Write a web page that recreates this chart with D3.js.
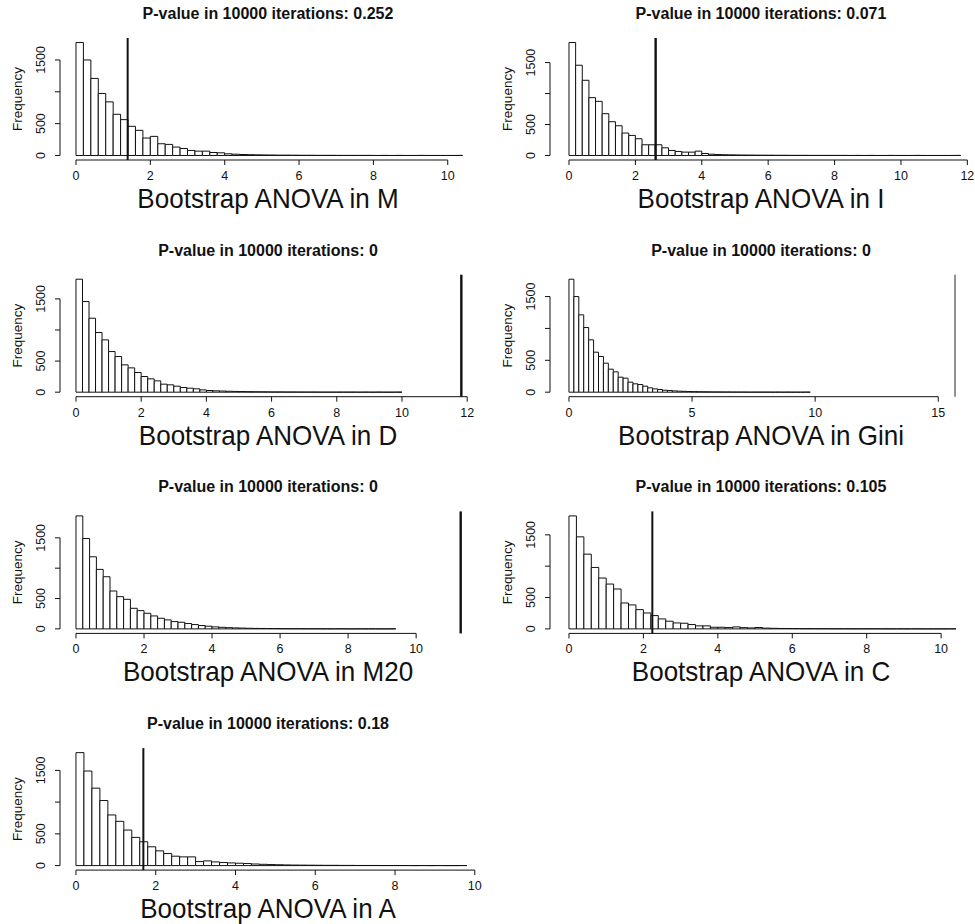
<!DOCTYPE html>
<html><head><meta charset="utf-8">
<script src="https://cdn.jsdelivr.net/npm/d3@7"></script>
<style>body{margin:0;background:#fff} svg{display:block}</style>
</head><body>
<svg id="c" width="975" height="924"></svg>
<script>
// ---------------- data ----------------
const variables = ["M", "I", "D", "Gini", "M20", "C", "A"];
const pValues = ["0.252", "0.071", "0", "0", "0", "0.105", "0.18"];
const observed = [1.39, 2.61, 11.82, 15.68, 11.31, 2.24, 1.69];
const binWidth = 0.2;

const countsM = [1774,1500,1210,974,842,647,563,458,395,274,300,184,174,132,110,79,68,68,47,42,26,20,15,12,10,8,7,5,5,4,3,3,2,2,2,1,1,1,1,1,0,1,0,1,0,0,1,0,0,0,0,1];
const countsI = [1824,1457,1214,934,874,675,545,480,362,324,270,173,173,173,124,81,65,54,54,70,32,20,15,12,10,8,7,6,5,4,4,3,3,2,2,2,1,1,1,1,1,1,0,1,0,1,0,0,1,0,0,0,1,0,0,0,0,0,1];
const countsD = [1816,1457,1189,959,841,653,573,439,391,316,252,214,182,129,118,96,75,64,54,37,27,22,18,15,12,10,8,7,6,5,4,4,3,3,2,2,2,1,1,1,1,1,1,0,1,0,1,0,0,1];
const countsGini = [1772,1500,1213,1014,821,627,559,455,361,319,235,220,157,131,120,94,68,52,42,31,26,20,16,13,10,8,7,6,5,4,4,3,3,2,2,2,1,1,1,1,1,0,1,0,1,0,0,0,1];
const countsM20 = [1861,1489,1188,980,859,624,531,487,339,301,257,213,175,148,120,109,88,71,55,44,33,26,20,16,13,10,8,7,6,5,4,3,3,2,2,2,1,1,1,1,0,1,0,1,0,0,1];
const countsC = [1802,1468,1192,980,811,715,636,413,382,307,254,212,159,122,95,90,69,48,48,26,26,21,32,20,15,22,12,9,7,6,5,4,4,3,3,2,2,2,1,1,1,1,1,0,1,0,1,0,0,0,0,1];
const countsA = [1780,1490,1220,1025,798,697,560,444,375,296,232,190,148,137,137,63,74,58,48,42,37,32,25,20,16,13,10,8,7,6,5,4,4,3,3,2,2,2,1,1,1,1,0,1,0,1,0,0,1];
const allCounts = [countsM, countsI, countsD, countsGini, countsM20, countsC, countsA];

const xTickValues = [
  [0,2,4,6,8,10],
  [0,2,4,6,8,10,12],
  [0,2,4,6,8,10,12],
  [0,5,10,15],
  [0,2,4,6,8,10],
  [0,2,4,6,8,10],
  [0,2,4,6,8,10]
];
const yTickValues = [0, 500, 1000, 1500];
const yTickLabels = ["0", "500", "", "1500"];

// ---------------- layout ----------------
const xLimits = [[-0.43,10.76],[-0.572,12.14],[-0.49,12.27],[-0.77,16.37],[-0.47,11.76],[-0.51,10.83],[-0.40,10.03]];
const colLeft = [60, 550], colRight = [476, 972];
const rowTop0 = 38, rowStep = 236.7, plotH = 122;
const lineWidths = [2, 2.4, 2.4, 1.3, 2.4, 2, 2];
const lineColors = ["#111", "#111", "#111", "#555", "#111", "#111", "#111"];
const FONT = "'Liberation Sans', Arial, Helvetica, sans-serif";

const svg = d3.select("#c");

variables.forEach((v, i) => {
  const col = i % 2, row = Math.floor(i / 2);
  const left = colLeft[col], right = colRight[col];
  const top = rowTop0 + row * rowStep, bottom = top + plotH;
  const counts = allCounts[i];
  const m = d3.max(counts);

  const x = d3.scaleLinear().domain(xLimits[i]).range([left, right]);
  const y = d3.scaleLinear().domain([-0.04 * m, 1.04 * m]).range([bottom, top]);

  const g = svg.append("g");

  // bars (paths so that empty bins still show as a baseline segment)
  g.selectAll("path.bar").data(counts).join("path")
    .attr("class", "bar")
    .attr("d", (d, k) => {
      const x0 = x(k * binWidth), x1 = x((k + 1) * binWidth);
      const y0 = y(0), y1 = y(d);
      return `M${x0},${y0}V${y1}H${x1}V${y0}Z`;
    })
    .attr("fill", "#fff")
    .attr("stroke", "#111")
    .attr("stroke-width", 1);

  // observed value line
  g.append("line")
    .attr("x1", x(observed[i])).attr("x2", x(observed[i]))
    .attr("y1", top).attr("y2", bottom)
    .attr("stroke", lineColors[i]).attr("stroke-width", lineWidths[i]);

  // x axis (R style: line spans first to last tick)
  const xt = xTickValues[i];
  const ax = g.append("g").attr("font-family", FONT).attr("font-size", 12.5);
  ax.append("line")
    .attr("x1", x(xt[0])).attr("x2", x(xt[xt.length - 1]))
    .attr("y1", bottom).attr("y2", bottom)
    .attr("stroke", "#111").attr("stroke-width", 1);
  xt.forEach(t => {
    ax.append("line").attr("x1", x(t)).attr("x2", x(t))
      .attr("y1", bottom).attr("y2", bottom + 5)
      .attr("stroke", "#111").attr("stroke-width", 1);
    ax.append("text").attr("x", x(t)).attr("y", bottom + 20)
      .attr("text-anchor", "middle").attr("fill", "#111").text(t);
  });

  // y axis
  const ay = g.append("g").attr("font-family", FONT).attr("font-size", 12.5);
  ay.append("line")
    .attr("x1", left).attr("x2", left)
    .attr("y1", y(yTickValues[0])).attr("y2", y(yTickValues[yTickValues.length - 1]))
    .attr("stroke", "#111").attr("stroke-width", 1);
  yTickValues.forEach((t, k) => {
    ay.append("line").attr("x1", left - 5).attr("x2", left)
      .attr("y1", y(t)).attr("y2", y(t))
      .attr("stroke", "#111").attr("stroke-width", 1);
    if (yTickLabels[k]) {
      ay.append("text")
        .attr("transform", `translate(${left - 15},${y(t)}) rotate(-90)`)
        .attr("text-anchor", "middle").attr("fill", "#111").text(yTickLabels[k]);
    }
  });

  // Frequency label
  g.append("text")
    .attr("transform", `translate(${left - 38},${(top + bottom) / 2}) rotate(-90)`)
    .attr("text-anchor", "middle").attr("font-family", FONT).attr("font-size", 13.5)
    .attr("fill", "#111").text("Frequency");

  // main title
  g.append("text")
    .attr("x", (left + right) / 2).attr("y", top - 19)
    .attr("text-anchor", "middle").attr("font-family", FONT).attr("font-size", 16)
    .attr("font-weight", "bold").attr("fill", "#111")
    .text(`P-value in 10000 iterations: ${pValues[i]}`);

  // x label (slightly condensed, as in the reference)
  g.append("text")
    .attr("transform", `translate(${(left + right) / 2},${bottom + 48}) scale(0.93,1)`)
    .attr("text-anchor", "middle").attr("font-family", FONT).attr("font-size", 28)
    .attr("fill", "#111").text(`Bootstrap ANOVA in ${v}`);
});
</script>
</body></html>
